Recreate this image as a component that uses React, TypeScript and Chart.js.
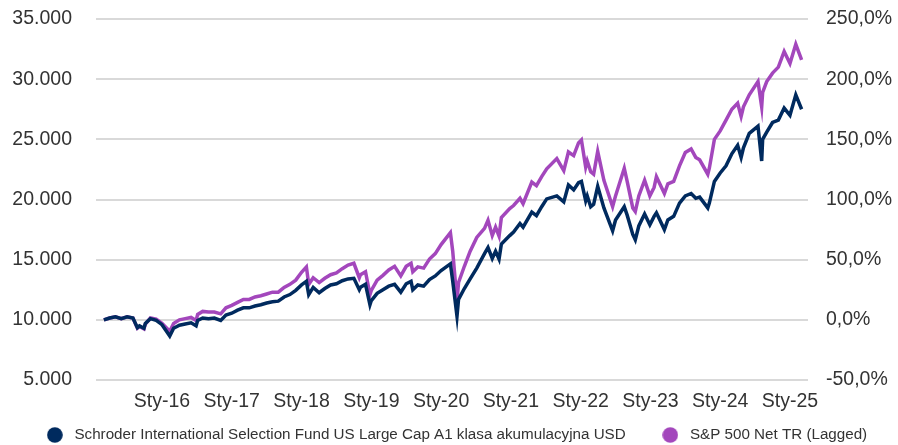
import React, { useEffect, useRef } from "react";
import { Chart, registerables } from "chart.js";

Chart.register(...registerables);

const seriesNames = [
  "Schroder International Selection Fund US Large Cap A1 klasa akumulacyjna USD",
  "S&P 500 Net TR (Lagged)",
];

// One row per year (same layout in all three arrays)
const dates = [
  "2015-03-01", "2015-04-01", "2015-05-01", "2015-06-01", "2015-07-01", "2015-08-01", "2015-08-24", "2015-09-05", "2015-09-28", "2015-10-05", "2015-11-01", "2015-12-01",
  "2016-01-01", "2016-02-11", "2016-03-01", "2016-04-01", "2016-05-01", "2016-06-01", "2016-06-27", "2016-07-05", "2016-08-01", "2016-09-01", "2016-10-01", "2016-11-04", "2016-12-01",
  "2017-01-01", "2017-02-01", "2017-03-01", "2017-04-01", "2017-05-01", "2017-06-01", "2017-07-01", "2017-08-01", "2017-09-01", "2017-10-01", "2017-11-01", "2017-12-01",
  "2018-01-01", "2018-01-26", "2018-02-08", "2018-03-01", "2018-04-02", "2018-05-01", "2018-06-01", "2018-07-01", "2018-08-01", "2018-09-01", "2018-10-01", "2018-10-29", "2018-11-05", "2018-12-01", "2018-12-24",
  "2019-01-01", "2019-02-01", "2019-03-01", "2019-04-01", "2019-05-01", "2019-06-03", "2019-07-01", "2019-07-26", "2019-08-05", "2019-09-01", "2019-10-01", "2019-11-01", "2019-12-01",
  "2020-01-01", "2020-02-19", "2020-03-01", "2020-03-23", "2020-04-01", "2020-05-01", "2020-06-01", "2020-07-05", "2020-08-15", "2020-09-03", "2020-09-25", "2020-10-12", "2020-10-30", "2020-11-12", "2020-12-25",
  "2021-01-15", "2021-02-18", "2021-03-04", "2021-04-19", "2021-05-13", "2021-06-10", "2021-07-06", "2021-08-28", "2021-10-04", "2021-10-28", "2021-11-25", "2021-12-20",
  "2022-01-05", "2022-01-27", "2022-02-05", "2022-02-23", "2022-03-08", "2022-03-29", "2022-05-01", "2022-06-16", "2022-07-01", "2022-08-16", "2022-09-01", "2022-09-30", "2022-10-13", "2022-11-01", "2022-12-01", "2022-12-28",
  "2023-01-20", "2023-02-02", "2023-03-13", "2023-04-01", "2023-05-01", "2023-06-01", "2023-07-01", "2023-07-31", "2023-08-25", "2023-09-15", "2023-10-27", "2023-11-05", "2023-12-01",
  "2024-01-01", "2024-02-01", "2024-03-01", "2024-04-01", "2024-04-19", "2024-05-01", "2024-06-01", "2024-07-16", "2024-08-05", "2024-08-10", "2024-09-01", "2024-10-01", "2024-11-01", "2024-12-01",
  "2025-01-01", "2025-02-01", "2025-03-01",
];

const fundValues = [
  10000, 10150, 10250, 10100, 10250, 10150, 9350, 9500, 9300, 9700, 10100, 9950,
  9600, 8650, 9300, 9550, 9650, 9750, 9500, 9950, 10150, 10100, 10150, 9950, 10400,
  10550, 10800, 11000, 11000, 11150, 11250, 11400, 11500, 11550, 11900, 12100, 12450,
  12900, 13200, 12100, 12700, 12250, 12600, 12900, 13000, 13250, 13400, 13450, 12500, 12700, 12950, 11250,
  11600, 12200, 12500, 12800, 12950, 12300, 13000, 13200, 12500, 12900, 12800, 13350, 13650,
  14100, 14650, 13200, 10300, 11700, 12600, 13400, 14300, 15500, 16000, 15100, 15700, 15050, 16300, 17000,
  17300, 18000, 17700, 18950, 18650, 19400, 20050, 20300, 19800, 21200, 20800, 21400,
  21500, 19900, 20300, 19400, 19600, 21100, 19300, 17400, 18300, 19400, 18700, 17100, 16650, 17800, 18800, 17900,
  18600, 18900, 17500, 18300, 18600, 19700, 20300, 20500, 20100, 20200, 19300, 19700, 21500,
  22200, 22800, 23800, 24500, 23500, 24300, 25500, 26100, 23200, 25000, 25600, 26400, 26600, 27600,
  27000, 28700, 27500,
];

const indexValues = [
  10000, 10150, 10250, 10100, 10250, 10150, 9300, 9450, 9250, 9650, 10150, 10050,
  9700, 9050, 9700, 10000, 10100, 10200, 9950, 10450, 10700, 10650, 10650, 10500, 11000,
  11200, 11450, 11700, 11700, 11900, 12000, 12150, 12300, 12300, 12700, 12950, 13300,
  13950, 14400, 12950, 13500, 13100, 13450, 13750, 13900, 14250, 14550, 14700, 13500, 13750, 14000, 12100,
  12450, 13300, 13700, 14150, 14450, 13650, 14450, 14700, 14000, 14400, 14300, 15050, 15500,
  16250, 17250, 15700, 11550, 13100, 14450, 15700, 16850, 17600, 18270, 17000, 17700, 16950, 18500, 19250,
  19500, 20100, 19650, 21450, 21150, 21900, 22550, 23400, 22400, 23950, 23650, 24700,
  24950, 22700, 23200, 22300, 22100, 24000, 21600, 19400, 20300, 22600, 21500, 19300, 19000, 20300, 21600, 20300,
  21000, 21900, 20500, 21300, 21500, 22800, 23900, 24200, 23500, 23300, 22100, 22600, 25000,
  25700, 26600, 27500, 28000, 26900, 27700, 28700, 29800, 27700, 28900, 29800, 30500, 31000, 32300,
  31300, 32900, 31600,
];

const tickMonths = [10, 22, 34, 46, 58, 70, 82, 94, 106, 118];
const tickLabels = ["Sty-16", "Sty-17", "Sty-18", "Sty-19", "Sty-20", "Sty-21", "Sty-22", "Sty-23", "Sty-24", "Sty-25"];

const colors = ["#002a5e", "#a347bc"];

function monthIndex(d: string): number {
  const [y, m, day] = d.split("-").map(Number);
  return (y - 2015) * 12 + (m - 3) + (day - 1) / 30;
}

function fmtThousands(v: number): string {
  return String(Math.round(v)).replace(/\B(?=(\d{3})+(?!\d))/g, ".");
}

function makeDot(color: string): HTMLCanvasElement {
  const c = document.createElement("canvas");
  c.width = 16;
  c.height = 16;
  const g = c.getContext("2d")!;
  g.fillStyle = color;
  g.beginPath();
  g.arc(8, 8, 7.8, 0, Math.PI * 2);
  g.fill();
  return c;
}

const LEGEND_PAD = 32.6;
const LEGEND_FONT = 15.2;

const legendTweak = {
  id: "legendTweak",
  beforeInit(chart: any) {
    const lg = chart.legend;
    if (lg && !lg.__patched) {
      const orig = lg.fit;
      lg.fit = function () {
        orig.call(this);
        this.height = 32;
      };
      lg.__patched = true;
    }
  },
  afterLayout(chart: any) {
    const lg = chart.legend;
    if (lg) {
      lg.top = 435 - LEGEND_PAD - LEGEND_FONT / 2;
      lg.bottom = chart.height;
      lg.height = lg.bottom - lg.top;
      lg.left += 6;
      lg.right += 6;
    }
  },
};

export default function App() {
  const ref = useRef<HTMLCanvasElement | null>(null);

  useEffect(() => {
    document.body.style.margin = "0";
    const ctx = ref.current!.getContext("2d")!;
    const fam = "'Liberation Sans', Arial, sans-serif";
    const font = { family: fam, size: 19.5 };
    const chart = new Chart(ctx, {
      type: "line",
      data: {
        datasets: [
          {
            label: seriesNames[0],
            data: dates.map((d, i) => ({ x: monthIndex(d), y: fundValues[i] })),
            borderColor: colors[0],
            backgroundColor: colors[0],
            borderWidth: 3.5,
            pointRadius: 0,
            pointStyle: makeDot(colors[0]) as any,
            tension: 0,
            yAxisID: "y",
          },
          {
            label: seriesNames[1],
            data: dates.map((d, i) => ({ x: monthIndex(d), y: indexValues[i] })),
            borderColor: colors[1],
            backgroundColor: colors[1],
            borderWidth: 3.5,
            pointRadius: 0,
            pointStyle: makeDot(colors[1]) as any,
            tension: 0,
            yAxisID: "y",
          },
        ],
      },
      options: {
        animation: false,
        responsive: false,
        maintainAspectRatio: false,
        layout: { padding: 0 },
        plugins: {
          legend: {
            position: "bottom",
            labels: {
              usePointStyle: true,
              pointStyleWidth: 24,
              boxHeight: LEGEND_FONT,
              padding: LEGEND_PAD,
              color: "#333",
              font: { family: fam, size: LEGEND_FONT },
            },
          },
          tooltip: { enabled: false },
        },
        scales: {
          x: {
            type: "linear",
            min: -1.35,
            max: 121.1,
            grid: { display: false, drawTicks: false },
            border: { display: false },
            afterBuildTicks: (scale: any) => {
              scale.ticks = tickMonths.map((v) => ({ value: v }));
            },
            afterFit: (scale: any) => {
              scale.height = 33;
            },
            ticks: {
              autoSkip: false,
              maxRotation: 0,
              padding: 10,
              color: "#333",
              font,
              callback: (v: any) => {
                const i = tickMonths.indexOf(Number(v));
                return i >= 0 ? tickLabels[i] : "";
              },
            },
          },
          y: {
            position: "left",
            min: 5000,
            max: 35000,
            grid: { color: "#d9d9d9", lineWidth: 2, drawTicks: false },
            border: { display: false },
            afterFit: (scale: any) => {
              scale.width = 96;
              scale.paddingTop = 19;
              scale.paddingBottom = 10;
            },
            ticks: {
              stepSize: 5000,
              padding: 24,
              color: "#333",
              font,
              callback: (v: any) => fmtThousands(Number(v)),
            },
          },
          y2: {
            position: "right",
            min: -50,
            max: 250,
            grid: { display: false, drawTicks: false },
            border: { display: false },
            afterFit: (scale: any) => {
              scale.width = 90;
              scale.paddingTop = 19;
              scale.paddingBottom = 10;
            },
            ticks: {
              stepSize: 50,
              padding: 18,
              color: "#333",
              font,
              callback: (v: any) => Number(v).toFixed(1).replace(".", ",") + "%",
            },
          },
        },
      },
      plugins: [legendTweak],
    });
    return () => chart.destroy();
  }, []);

  return (
    <div style={{ width: 898, height: 445, background: "#fff" }}>
      <canvas ref={ref} width={898} height={445} style={{ display: "block" }} />
    </div>
  );
}
